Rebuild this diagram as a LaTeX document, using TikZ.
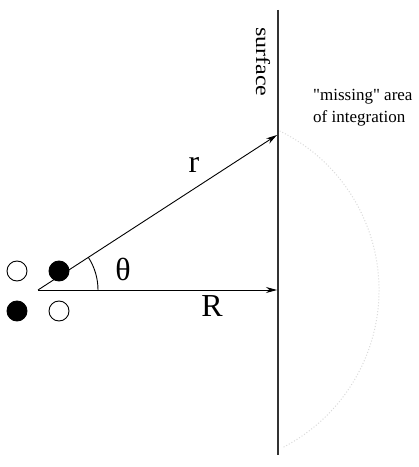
\documentclass[tikz,border=0pt]{standalone}
\usepackage{fontspec}
\setmainfont{Liberation Serif}
\newfontfamily\nomapserif{Liberation Serif}[Ligatures=TeXOff]
\usetikzlibrary{arrows.meta}
\begin{document}
\begin{tikzpicture}[x=1pt,y=1pt,
  vec/.style={line width=0.9pt,-{Stealth[length=11pt,width=6pt]}},
  bigl/.style={font=\fontsize{32}{36}\selectfont, inner sep=0pt},
  smalll/.style={font=\fontsize{17}{21}\selectfont, inner sep=0pt, align=left},
  opendot/.style={circle, draw, line width=0.9pt, fill=white, minimum size=20pt, inner sep=0pt},
  fulldot/.style={circle, draw, line width=0.9pt, fill=black, minimum size=20pt, inner sep=0pt}]
\useasboundingbox (0,0) rectangle (419,467);
% surface line
\coordinate (stop) at (278,457);
\coordinate (sbot) at (278,12);
\draw[line width=1.1pt, black!80] (stop) -- (sbot);
% missing area dotted arc
\coordinate (ac) at (202,177);
\draw[black!15, dotted, line width=1pt] ([shift={(64:177)}]ac) arc[start angle=64, end angle=-63, radius=177];
% vectors
\coordinate (O) at (38,177);
\coordinate (Rt) at (277,177);
\coordinate (rt) at (277,332);
\draw[vec] (O) -- (Rt);
\draw[vec] (O) -- (rt);
% angle arc
\draw[line width=0.9pt] ([shift={(0:60)}]O) arc[start angle=0, end angle=33, radius=60];
% dots
\node[opendot] (d1) at (17,196) {};
\node[fulldot] (d2) at (59,196) {};
\node[fulldot] (d3) at (17,156) {};
\node[opendot] (d4) at (59,156) {};
% labels
\node[bigl] (th) at (123,198) {θ};
\node[bigl] (rl) at (194,302) {r};
\node[bigl] (Rl) at (212,161) {R};
\node[rotate=-90, inner sep=0pt] (surf) at (263,405) {\fontsize{20}{24}\selectfont\scalebox{1.2}[1]{surface}};
\node[smalll, anchor=west] (miss) at (313,370) {{\nomapserif "missing" area}};
\node[smalll, anchor=west] (integ) at (313,349) {of integration};
\end{tikzpicture}
\end{document}
